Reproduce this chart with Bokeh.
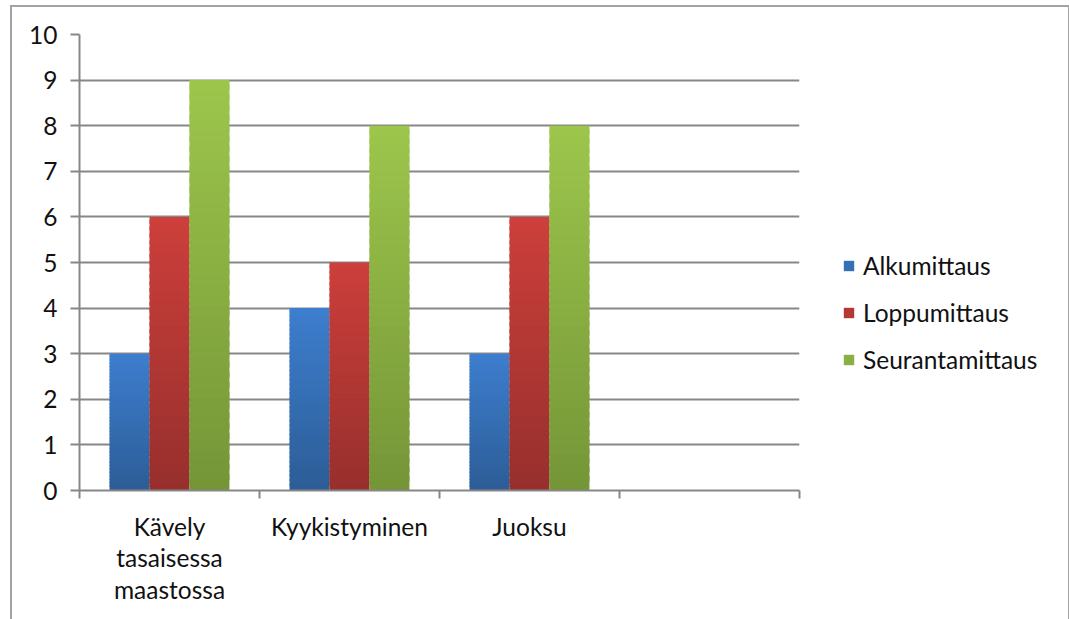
from bokeh.plotting import figure
from bokeh.layouts import row
from bokeh.models import (FixedTicker, Legend, LegendItem, ColumnDataSource, Range1d)
from bokeh.embed import file_html
from bokeh.resources import INLINE

# --- data -------------------------------------------------------------
categories = ["Kävely\ntasaisessa\nmaastossa", "Kyykistyminen", "Juoksu", ""]
series_names = ["Alkumittaus", "Loppumittaus", "Seurantamittaus"]
alkumittaus = [3, 4, 3]
loppumittaus = [6, 5, 6]
seurantamittaus = [9, 8, 8]
y_ticks = list(range(0, 11))

# gradient ends per series (bottom, top)
series_colors = [
    ("#2c5d96", "#3d7ecf"),
    ("#962f2c", "#cd3f3b"),
    ("#759537", "#9cc64c"),
]

FONT = "Lato"
FONT_SIZE = "24.5px"
TEXT = "#111111"
GRID = "#878787"

# thin frame around the whole chart area
frame_css = """
:host { position: relative; }
:host::after {
  content: ""; position: absolute; pointer-events: none;
  left: 10px; top: 5px; width: 1056px; height: 700px;
  border: 2px solid #a3a3a3;
}
"""

MAIN_W = 805
p = figure(width=MAIN_W, height=619, output_backend="svg", toolbar_location=None,
           x_range=Range1d(0, len(categories)), y_range=Range1d(0, 10),
           min_border_left=79, min_border_right=MAIN_W - 799, min_border_top=34,
           min_border_bottom=129, outline_line_color=None,
           background_fill_color="white", border_fill_color="white")

# --- gradient-filled clustered bars ----------------------------------
def mix(c1, c2, t):
    a = [int(c1[i:i + 2], 16) for i in (1, 3, 5)]
    b = [int(c2[i:i + 2], 16) for i in (1, 3, 5)]
    return "#%02x%02x%02x" % tuple(round(a[k] + (b[k] - a[k]) * t) for k in range(3))

bar_w = 0.222
offsets = [-bar_w, 0.0, bar_w]
steps = 40
for s, values in enumerate([alkumittaus, loppumittaus, seurantamittaus]):
    lo, hi = series_colors[s]
    xs, bottoms, tops, cols = [], [], [], []
    for i, v in enumerate(values):
        for k in range(steps):
            xs.append(i + 0.5 + offsets[s])
            bottoms.append(v * k / steps)
            # slight overlap with the next slice hides seams
            tops.append(min(v, v * (k + 1.6) / steps))
            cols.append(mix(lo, hi, (k + 0.5) / steps))
    src = ColumnDataSource(dict(x=xs, bottom=bottoms, top=tops, color=cols))
    p.vbar(x="x", bottom="bottom", top="top", width=bar_w, source=src,
           fill_color="color", line_color=None)

# --- axes -------------------------------------------------------------
p.xgrid.visible = False
p.ygrid.ticker = FixedTicker(ticks=y_ticks)
p.ygrid.grid_line_color = GRID
p.ygrid.grid_line_width = 2
p.ygrid.level = "underlay"

ya = p.yaxis[0]
ya.ticker = FixedTicker(ticks=y_ticks)
ya.axis_line_color = GRID
ya.axis_line_width = 2
ya.major_tick_line_color = GRID
ya.major_tick_line_width = 2
ya.major_tick_out = 9
ya.major_tick_in = 0
ya.minor_tick_line_color = None
ya.major_label_standoff = 13
ya.major_label_text_font = FONT
ya.major_label_text_font_size = FONT_SIZE
ya.major_label_text_color = TEXT

xa = p.xaxis[0]
centers = [i + 0.5 for i in range(len(categories))]
xa.ticker = FixedTicker(ticks=centers, minor_ticks=list(range(len(categories) + 1)))
xa.major_label_overrides = {c: lab for c, lab in zip(centers, categories)}
xa.axis_line_color = GRID
xa.axis_line_width = 2
xa.major_tick_line_color = None
xa.major_tick_out = 0
xa.minor_tick_line_color = GRID
xa.minor_tick_line_width = 2
xa.minor_tick_out = 8
xa.minor_tick_in = 0
xa.major_label_standoff = 13
xa.major_label_text_font = FONT
xa.major_label_text_font_size = FONT_SIZE
xa.major_label_text_color = TEXT
xa.major_label_text_line_height = 1.1

# --- legend panel -----------------------------------------------------
leg_fig = figure(width=1069 - MAIN_W, height=619, output_backend="svg",
                 toolbar_location=None, x_range=Range1d(0, 1), y_range=Range1d(0, 1),
                 min_border=0, outline_line_color=None,
                 background_fill_color="white", border_fill_color="white")
leg_fig.axis.visible = False
leg_fig.grid.visible = False

# zero-height swatch renderers that only feed the legend glyphs
swatches = []
for s, name in enumerate(series_names):
    lo, hi = series_colors[s]
    swatches.append(leg_fig.vbar(x=[0.5], bottom=[0], top=[0], width=0,
                                 fill_color=mix(lo, hi, 0.55), line_color=None))

items = [LegendItem(label=n, renderers=[r], index=0) for n, r in zip(series_names, swatches)]
legend = Legend(items=items, location=(842 - MAIN_W, 116), orientation="vertical",
                glyph_width=13, glyph_height=13, label_height=24,
                spacing=18, label_standoff=8, padding=0, margin=0,
                border_line_color=None, background_fill_alpha=0,
                label_text_font=FONT, label_text_font_size=FONT_SIZE,
                label_text_color=TEXT)
leg_fig.add_layout(legend, "center")

layout = row(p, leg_fig, stylesheets=[frame_css])

open("out.html", "w").write(file_html(layout, INLINE))
